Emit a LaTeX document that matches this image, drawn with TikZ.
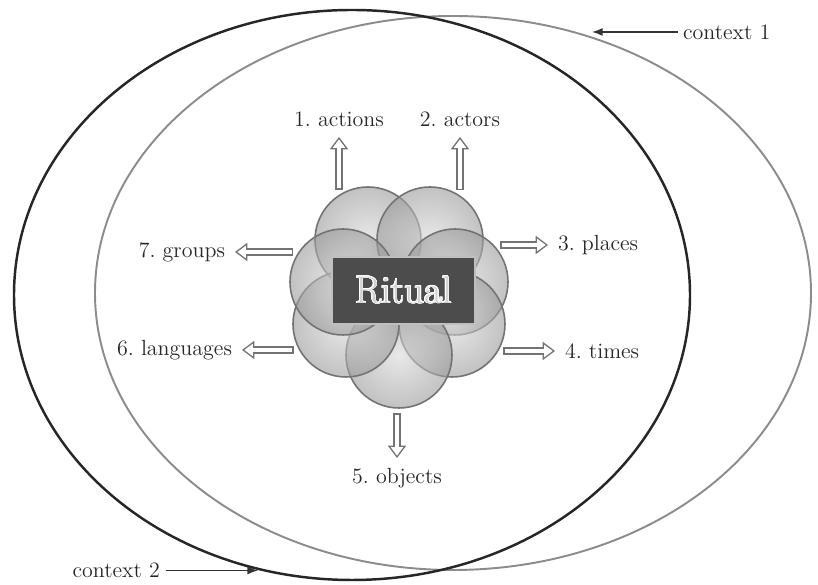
\documentclass[tikz,border=0pt]{standalone}
\usepackage{contour}
\contourlength{0.45pt}
\usetikzlibrary{arrows.meta}

\begin{document}
\begin{tikzpicture}[
    every node/.style={font=\fontsize{12.5}{14}\selectfont},
    lbl/.style={inner sep=5.5pt, text=black!85},
    petal/.style={circle, minimum size=2.12cm, inner sep=0pt, outer sep=3pt,
        draw=black!55, line width=0.9pt, shade, inner color=gray!30,
        outer color=gray!80, fill opacity=0.6},
    ritualbox/.style={draw=gray!50, line width=1.2pt, fill=black!70, inner sep=0pt,
        minimum width=2.86cm, minimum height=1.34cm, text=gray!35,
        font=\fontsize{22}{24}\selectfont},
    hollow/.style={line width=4.4pt, draw=black!55,
        -{Triangle[width=10.5pt,length=7pt,line width=0pt]},
        postaction={draw=white, line width=2.8pt, shorten >=1.35pt, shorten <=0.8pt,
        -{Triangle[width=7.1pt,length=4.8pt,line width=0pt]}}},
    ctxarrow/.style={-{Latex[length=6pt,width=4.5pt]}, line width=0.8pt, black!80}
]
\useasboundingbox (0,0) rectangle (16.36,11.70);

% ---- the two contexts ----
\draw[line width=1.1pt, black!45] (9.06,5.84) ellipse [x radius=7.16, y radius=5.54];
\draw[line width=1.4pt, black!85] (7.04,5.80) ellipse [x radius=6.76, y radius=5.70];

\node[lbl, anchor=west, inner sep=3pt] (ctxone) at (13.55,11.06) {context 1};
\coordinate (ctxonetip) at (11.84,11.06);
\draw[ctxarrow] (ctxone.west) -- (ctxonetip);

\node[lbl, anchor=east, inner sep=3pt] (ctxtwo) at (3.31,0.29) {context 2};
\coordinate (ctxtwotip) at (5.16,0.29);
\draw[ctxarrow] (ctxtwo.east) -- (ctxtwotip);

% ---- flower of seven petals ----
\foreach \n/\x/\y in {tl/7.36/6.90, tr/8.60/6.90, mr/9.10/6.06, lr/9.04/5.22,
    bt/7.98/4.60, ll/6.92/5.22, ml/6.86/6.06}
  \node[petal] (\n) at (\x,\y) {};

\node[ritualbox] (ritual) at (8.07,5.89) {\contour{white}{Ritual}};

% ---- the seven dimensions ----
\node[lbl, anchor=south] (actions) at (6.78,8.96) {1.\ actions};
\node[lbl, anchor=south] (actors) at (9.20,8.96) {2.\ actors};
\node[lbl, anchor=west] (places) at (10.96,6.80) {3.\ places};
\node[lbl, anchor=west] (times) at (11.10,4.68) {4.\ times};
\node[lbl, anchor=north] (objects) at (7.94,2.54) {5.\ objects};
\node[lbl, anchor=east] (languages) at (4.84,4.70) {6.\ languages};
\node[lbl, anchor=east] (groups) at (4.70,6.66) {7.\ groups};

\draw[hollow] (actions.south |- tl.120) -- (actions.south);
\draw[hollow] (actors.south |- tr.59) -- (actors.south);
\draw[hollow] (places.west -| mr.39) -- (places.west);
\draw[hollow] (times.west -| lr.332) -- (times.west);
\draw[hollow] (objects.north |- bt.south) -- (objects.north);
\draw[hollow] (languages.east -| ll.206) -- (languages.east);
\draw[hollow] (groups.east -| ml.149) -- (groups.east);
\end{tikzpicture}
\end{document}
